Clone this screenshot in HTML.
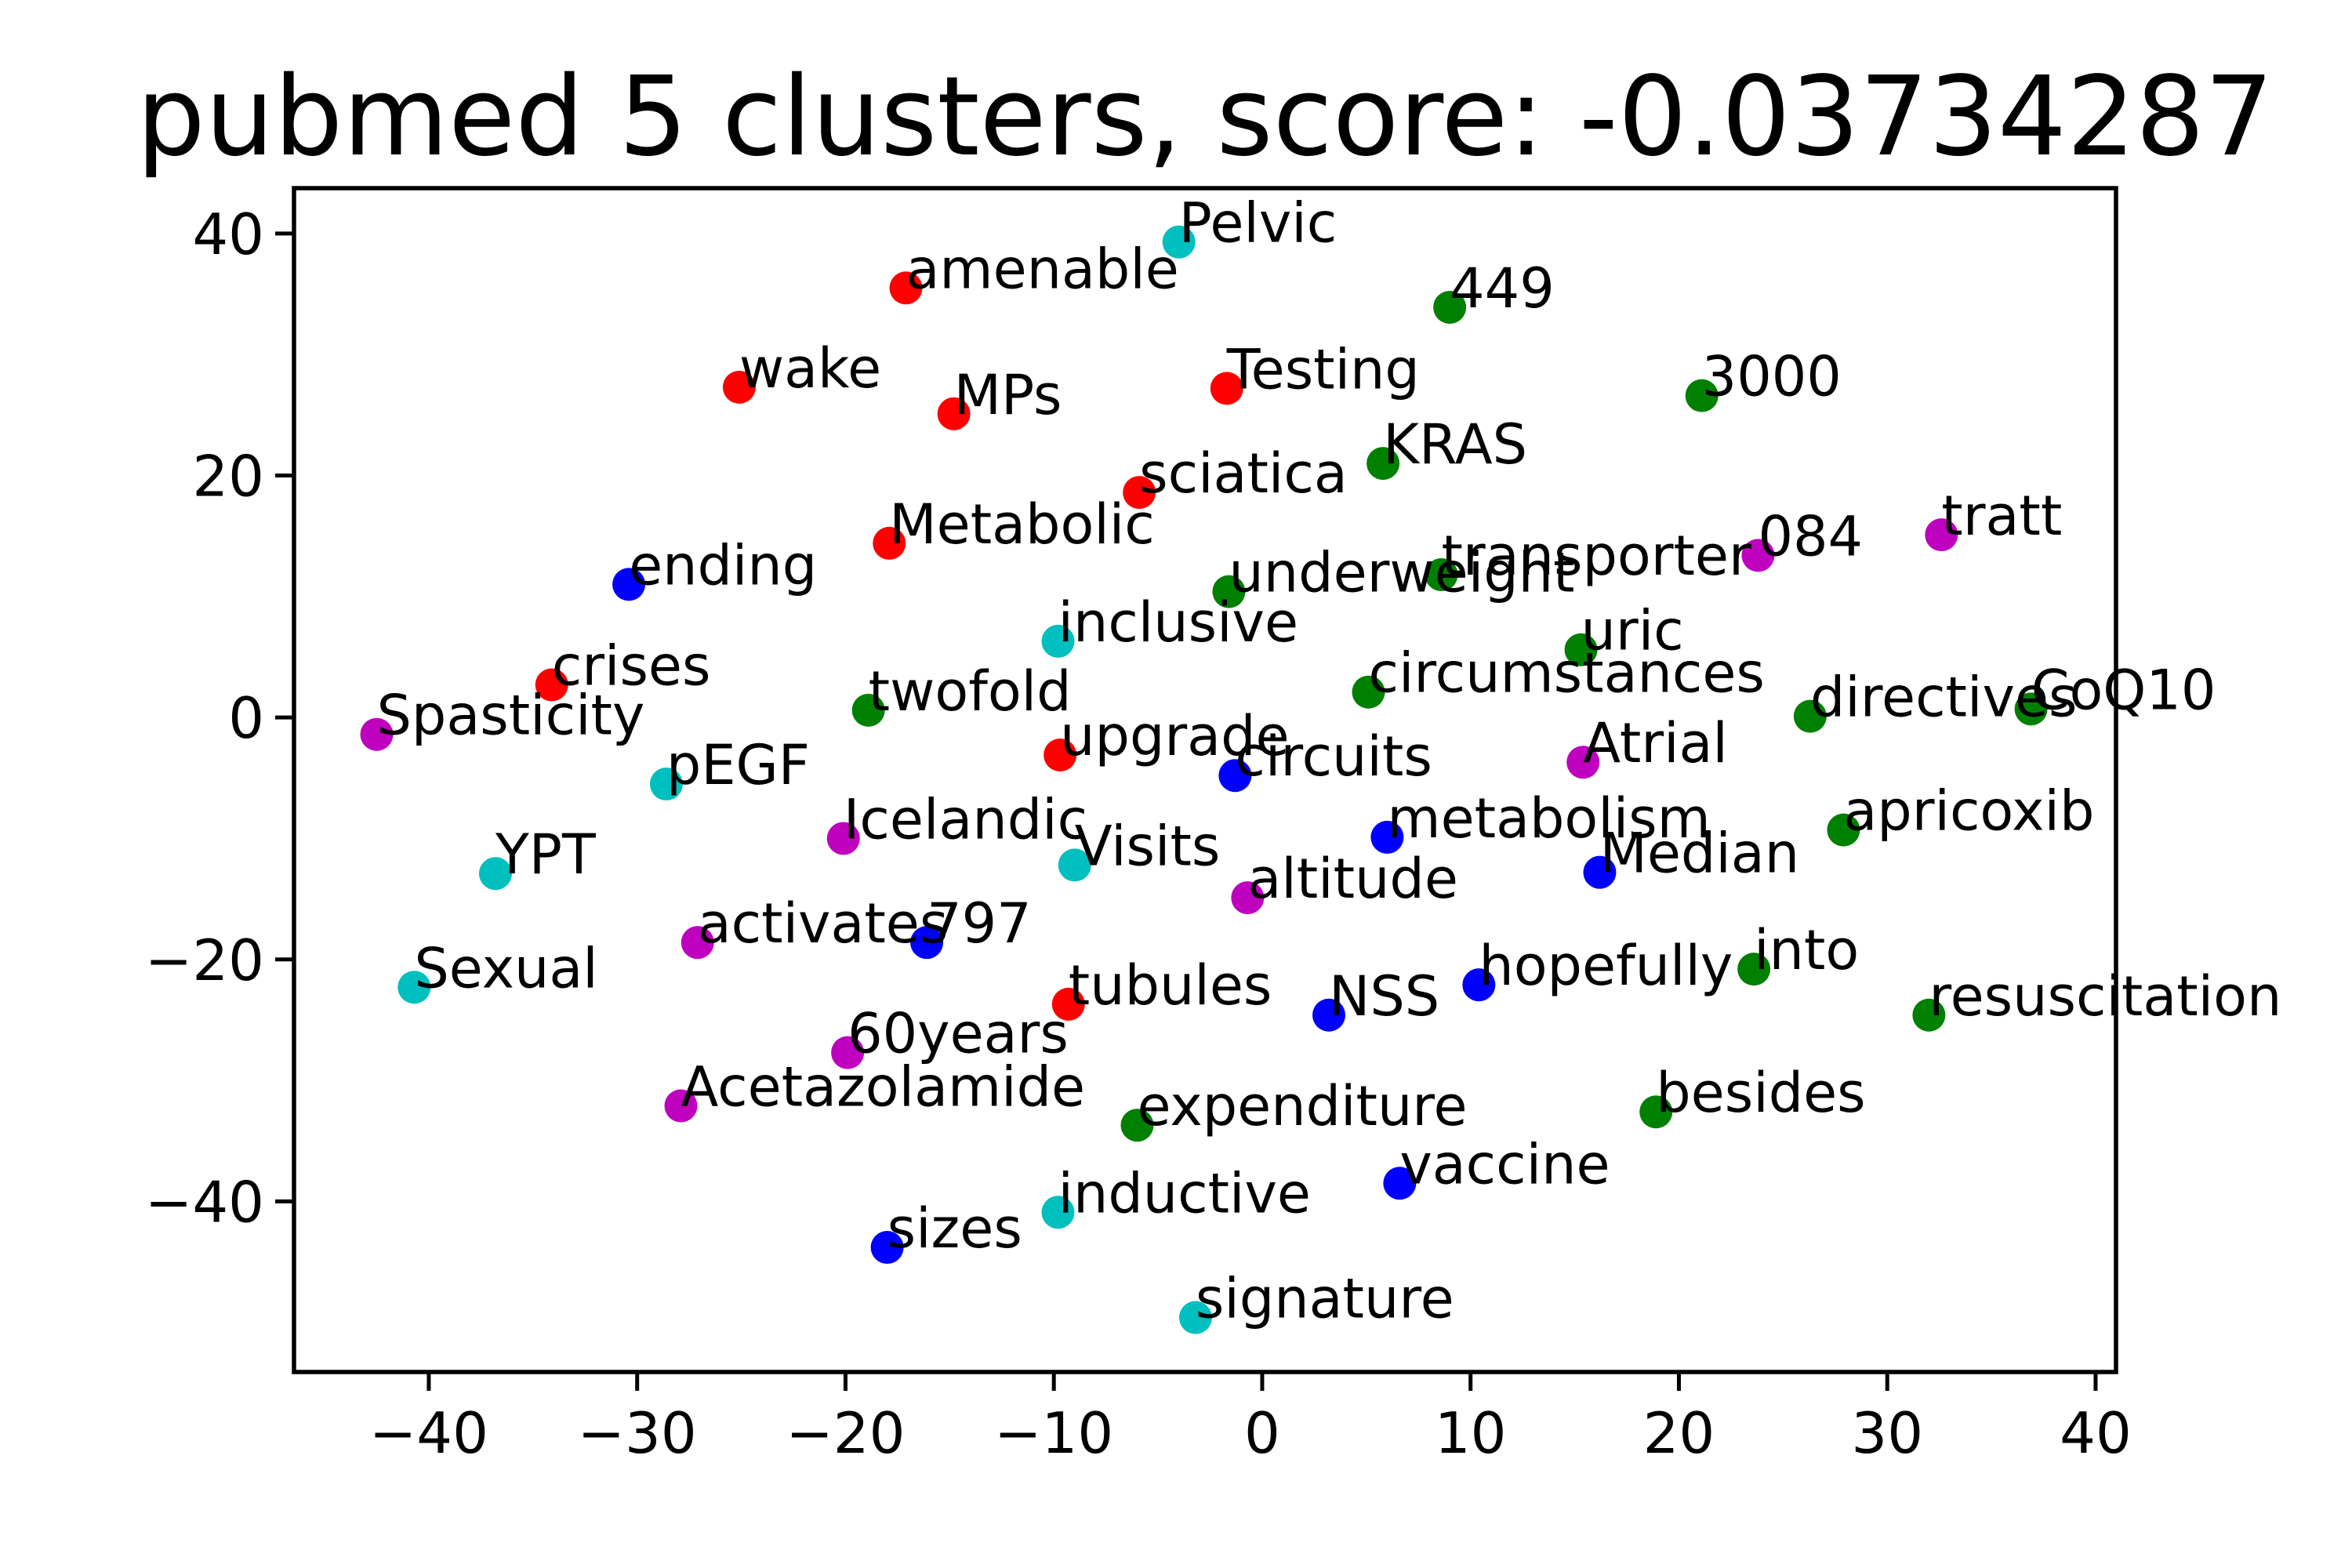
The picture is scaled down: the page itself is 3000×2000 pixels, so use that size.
<!DOCTYPE html>
<html><head><meta charset="utf-8">
<style>
html,body{margin:0;padding:0;background:#fff;}
svg{display:block;}
text{font-family:"DejaVu Sans","Liberation Sans",sans-serif;fill:#000;}
</style></head>
<body>
<svg id="chart" xmlns="http://www.w3.org/2000/svg" width="3000" height="2000" viewBox="0 0 3000 2000">
<rect x="0" y="0" width="3000" height="2000" fill="#fff"/>
<text x="1537" y="197" font-size="140" text-anchor="middle" textLength="2726" lengthAdjust="spacingAndGlyphs">pubmed 5 clusters, score: -0.03734287</text>
<g id="marks"></g>
<g id="axes"></g>
</svg>
<script>
const words = ["amenable","wake","MPs","Testing","sciatica","Metabolic","crises","upgrade","tubules",
"Pelvic","inclusive","pEGF","YPT","Visits","Sexual","inductive","signature",
"449","3000","KRAS","underweight","transporter","uric","circumstances","twofold","directives","CoQ10","apricoxib","into","resuscitation","besides","expenditure",
"ending","circuits","metabolism","Median","797","hopefully","NSS","vaccine","sizes",
"Spasticity","084","tratt","Atrial","Icelandic","altitude","activates","60years","Acetazolamide"];
const xValues = [-17.1,-25.1,-14.8,-1.7,-5.9,-17.9,-34.1,-9.7,-9.3,
-4.0,-9.8,-28.6,-36.8,-9.0,-40.7,-9.8,-3.2,
9.0,21.1,5.8,-1.6,8.6,15.3,5.1,-18.9,26.3,36.9,27.9,23.6,32.0,18.9,-6.0,
-30.4,-1.3,6.0,16.2,-16.1,10.4,3.2,6.6,-18.0,
-42.5,23.8,32.6,15.4,-20.1,-0.7,-27.1,-19.9,-27.9];
const yValues = [35.5,27.3,25.1,27.2,18.6,14.4,2.7,-3.1,-23.7,
39.3,6.3,-5.5,-12.9,-12.2,-22.3,-40.9,-49.6,
33.9,26.6,21.0,10.4,11.8,5.6,2.1,0.6,0.1,0.7,-9.3,-20.8,-24.6,-32.6,-33.7,
11.0,-4.8,-9.9,-12.8,-18.6,-22.1,-24.6,-38.5,-43.8,
-1.4,13.4,15.1,-3.7,-10.0,-14.9,-18.6,-27.7,-32.1];
const clusters = [0,0,0,0,0,0,0,0,0, 1,1,1,1,1,1,1,1, 2,2,2,2,2,2,2,2,2,2,2,2,2,2,2, 3,3,3,3,3,3,3,3,3, 4,4,4,4,4,4,4,4,4];
const clusterColors = ["#ff0000","#00bfbf","#008000","#0000ff","#bf00bf"];
const xTicks = [-40,-30,-20,-10,0,10,20,30,40];
const yTicks = [40,20,0,-20,-40];
const xTickLabels = ["\u221240","\u221230","\u221220","\u221210","0","10","20","30","40"];
const yTickLabels = ["40","20","0","\u221220","\u221240"];

const NS = "http://www.w3.org/2000/svg";
const L=375,R=2699,T=240,B=1750;
const xMin=-46.47,xMax=40.98,yMin=-54.1,yMax=43.75;
function sx(v){return L+(v-xMin)/(xMax-xMin)*(R-L);}
function sy(v){return B-(v-yMin)/(yMax-yMin)*(B-T);}
function mk(tag,attrs){const e=document.createElementNS(NS,tag);for(const k in attrs)e.setAttribute(k,attrs[k]);return e;}

const marks=document.getElementById('marks');
for(let i=0;i<words.length;i++){
  const c=mk('circle',{cx:sx(xValues[i]),cy:sy(yValues[i]),r:21,fill:clusterColors[clusters[i]]});
  
  
  marks.appendChild(c);
}
for(let i=0;i<words.length;i++){
  const t=mk('text',{x:sx(xValues[i]),y:sy(yValues[i]),'font-size':70});
  t.textContent=words[i];
  
  
  marks.appendChild(t);
}
const axes=document.getElementById('axes');
const frame=mk('rect',{x:L,y:T,width:R-L,height:B-T,fill:'none',stroke:'#000','stroke-width':5.5});


axes.appendChild(frame);
xTicks.forEach((v,i)=>{
  const x=sx(v);
  const tk=mk('line',{x1:x,y1:B,x2:x,y2:B+24,stroke:'#000','stroke-width':5});
  
  
  axes.appendChild(tk);
  const lb=mk('text',{x:x,y:1853,'font-size':72,'text-anchor':'middle'});
  lb.textContent=xTickLabels[i];
  
  
  axes.appendChild(lb);
});
yTicks.forEach((v,i)=>{
  const y=sy(v);
  const tk=mk('line',{x1:L-24,y1:y,x2:L,y2:y,stroke:'#000','stroke-width':5});
  
  
  axes.appendChild(tk);
  const lb=mk('text',{x:L-38,y:y+26,'font-size':72,'text-anchor':'end'});
  lb.textContent=yTickLabels[i];
  
  
  axes.appendChild(lb);
});
</script>
</body></html>
